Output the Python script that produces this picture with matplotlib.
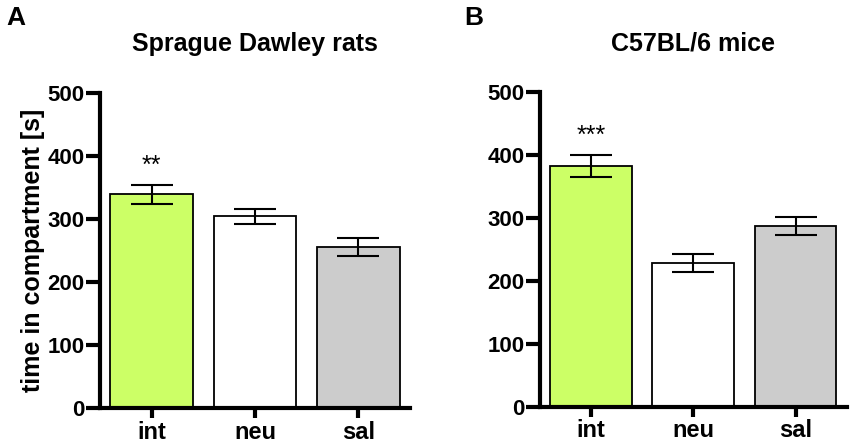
import matplotlib.pyplot as plt
import numpy as np

plt.rcParams['font.family'] = ['Liberation Sans', 'DejaVu Sans']
plt.rcParams['font.weight'] = 'bold'

# %% data
groups = ['int', 'neu', 'sal']
rats_mean = [339, 304, 256]
rats_sem = [15, 11.5, 14]
mice_mean = [382, 228, 287]
mice_sem = [17.5, 14, 14]
rats_stars = ['**', '', '']
mice_stars = ['***', '', '']
bar_colors = ['#ccff66', '#ffffff', '#cccccc']

# %% figure
fig = plt.figure(figsize=(8.5, 4.46), dpi=100)
ax1 = fig.add_axes([0.1176, 0.0852, 0.3648, 0.7063])
ax2 = fig.add_axes([0.6353, 0.0881, 0.3608, 0.7063])


def draw_panel(ax, means, sems, stars, title):
    x = np.arange(len(groups))
    ax.bar(x, means, width=0.8, color=bar_colors, edgecolor='black',
           linewidth=1.3, zorder=2)
    ax.errorbar(x, means, yerr=sems, fmt='none', ecolor='black',
                elinewidth=1.5, capsize=15, capthick=1.5, zorder=3)
    for xi, m, s, st in zip(x, means, sems, stars):
        if st:
            ax.text(xi, m + s + 31, st, ha='center', va='center',
                    fontsize=18, fontweight='normal')
    ax.set_xlim(-0.5, 2.5)
    ax.set_ylim(0, 500)
    ax.set_yticks([0, 100, 200, 300, 400, 500])
    ax.set_xticks(x)
    ax.set_xticklabels(groups, fontsize=17, fontweight='bold')
    for lab in ax.get_yticklabels():
        lab.set_fontsize(16)
        lab.set_fontweight('bold')
    ax.spines['top'].set_visible(False)
    ax.spines['right'].set_visible(False)
    ax.spines['left'].set_linewidth(3)
    ax.spines['bottom'].set_linewidth(3)
    ax.tick_params(axis='y', length=10, width=3, pad=1)
    ax.tick_params(axis='x', length=7, width=3, pad=2)
    ax.set_title(title, fontsize=18, fontweight='bold', pad=30)


draw_panel(ax1, rats_mean, rats_sem, rats_stars, 'Sprague Dawley rats')
draw_panel(ax2, mice_mean, mice_sem, mice_stars, 'C57BL/6 mice')

ax1.set_ylabel('time in compartment [s]', fontsize=18, fontweight='bold',
               labelpad=2)

fig.text(0.008, 0.96, 'A', fontsize=19, fontweight='bold', va='center')
fig.text(0.546, 0.96, 'B', fontsize=19, fontweight='bold', va='center')

fig.savefig('out.png', dpi=100)
